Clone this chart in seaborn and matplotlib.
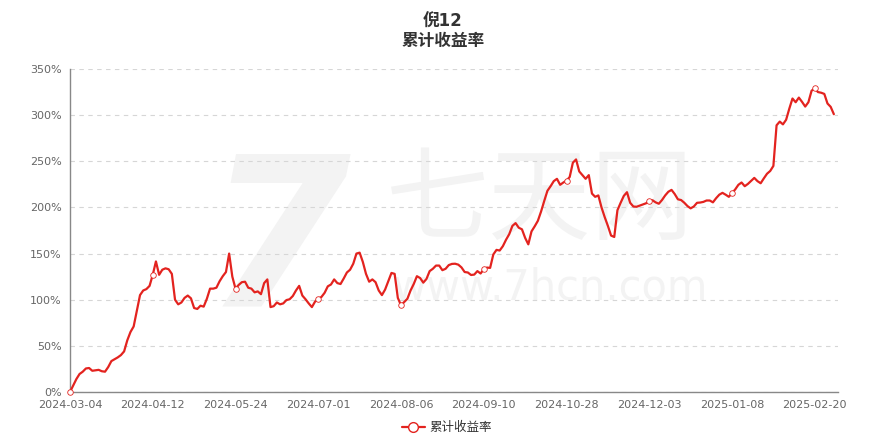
import numpy as np
import pandas as pd
import seaborn as sns
import matplotlib.pyplot as plt
from matplotlib.ticker import FuncFormatter, MultipleLocator

# x labels shown every 26 trading days
tick_dates = ['2024-03-04', '2024-04-12', '2024-05-24', '2024-07-01', '2024-08-06',
              '2024-09-10', '2024-10-28', '2024-12-03', '2025-01-08', '2025-02-20']
tick_step = 26

# cumulative return in %, one value per trading day
ret = [0, 7, 14, 19.5, 22, 25.5, 26, 23, 23.5, 24,
       22.5, 22, 27, 33.5, 35.5, 37.5, 40, 44, 56, 65,
       71, 88, 105, 110, 111.5, 115, 127, 141.5, 127, 132.5,
       134, 133, 128, 100, 95, 97, 102, 104.5, 101.5, 91,
       90, 93.5, 92.5, 101, 112, 112, 113, 120, 125.5, 130,
       150, 125, 112, 116, 119, 119.5, 113, 112, 108, 109,
       106, 118, 122, 92, 93, 97, 95, 96, 99.6, 100.5,
       104, 110, 115, 104.5, 100.5, 96, 92, 98, 101, 103,
       107.5, 114.5, 116.5, 122, 118, 117, 123, 129.5, 132.5, 139,
       150, 151, 141, 128, 119.5, 122, 119, 110, 105, 111,
       120, 129, 128, 102, 94, 97.5, 101, 110, 117, 125.5,
       123.5, 118.5, 122.5, 131, 133.5, 137, 137, 132, 133.5, 137.5,
       138.8, 139, 138, 135, 130, 129.5, 126.8, 127.2, 131, 128.4,
       133, 134.8, 134.5, 149, 154, 153.3, 158, 165, 171, 180,
       183, 178, 176.3, 167, 160, 174, 179.5, 185.5, 195.5, 207,
       218, 223, 228.5, 231, 224.5, 227, 229, 233, 248.5, 252,
       239, 235, 231, 235, 215, 211.5, 213, 200, 189.5, 180,
       169.5, 168, 197, 205, 212.5, 216.5, 205, 201, 200.7, 202,
       203.3, 204.5, 207, 207.8, 205.5, 204, 208, 213, 217, 219,
       214.5, 208.8, 208, 205.1, 201.5, 199, 201, 205, 205.3, 206,
       207.5, 207.5, 205.5, 210, 213.8, 215.8, 213.8, 211.5, 215.5, 219.5,
       224.5, 227, 223, 225.5, 228.8, 232, 228.5, 226.2, 231.5, 236.5,
       239.5, 245, 289, 293, 290, 295, 307, 318, 314, 319,
       314.4, 309.3, 314, 326.5, 328.9, 325, 324.3, 323, 312.6, 309, 301]

df = pd.DataFrame({'day': np.arange(len(ret)), 'ret': ret})

sns.set_theme(style='white')
plt.rcParams['font.family'] = ['DejaVu Sans', 'Noto Sans CJK SC']

W, H = 886, 445
fig = plt.figure(figsize=(W / 100, H / 100), dpi=100)
ax = fig.add_axes([70 / W, 1 - 392 / H, 768 / W, 323 / H])
ax.set_facecolor('none')

# watermark
wm = '#f3f3f3'
fig.text(278 / W, 1 - 248 / H, '7', fontsize=150, fontweight='bold', style='italic',
         color=wm, ha='center', va='center', zorder=-5)
fig.text(540 / W, 1 - 203 / H, '七天网', fontsize=74, color=wm,
         ha='center', va='center', zorder=-5)
fig.text(550 / W, 1 - 288 / H, 'www.7hcn.com', fontsize=30, color=wm,
         ha='center', va='center', zorder=-5)

red = '#e3231f'
sns.lineplot(data=df, x='day', y='ret', ax=ax, color=red, linewidth=1.6,
             marker='o', markevery=tick_step, markersize=4, markerfacecolor='white',
             markeredgecolor=red, markeredgewidth=0.6, label='累计收益率', legend=False,
             clip_on=False, zorder=5)

ax.set_xlim(0, 241.3)
ax.set_ylim(0, 350)
ax.set_xlabel('')
ax.set_ylabel('')

ax.set_xticks(np.arange(len(tick_dates)) * tick_step)
ax.set_xticklabels(tick_dates)
ax.yaxis.set_major_locator(MultipleLocator(50))
ax.yaxis.set_major_formatter(FuncFormatter(lambda v, p: f'{v:.0f}%'))

ax.yaxis.grid(True, linestyle=(0, (4, 4)), color='#d6d6d6', linewidth=0.8)
ax.xaxis.grid(False)
for s in ['top', 'right']:
    ax.spines[s].set_visible(False)
for s in ['left', 'bottom']:
    ax.spines[s].set_color('#888888')
    ax.spines[s].set_linewidth(1)

ax.tick_params(axis='both', direction='out', length=4, width=0.8, color='#888888',
               labelsize=8, labelcolor='#666666', pad=2)

fig.text(0.5, 1 - 22 / H, '倪12', fontsize=12, fontweight='bold', color='#333333',
         ha='center', va='center')
fig.text(0.5, 1 - 41 / H, '累计收益率', fontsize=12, fontweight='bold', color='#333333',
         ha='center', va='center')

leg = fig.legend(loc='center', bbox_to_anchor=(447 / W, 1 - 428 / H), frameon=False,
                 fontsize=9, labelcolor='#333333', handlelength=1.8, handletextpad=0.4)
for h in leg.legend_handles:
    h.set_markersize(7)
    h.set_markeredgewidth(1.0)

plt.savefig('out.png', dpi=100)
